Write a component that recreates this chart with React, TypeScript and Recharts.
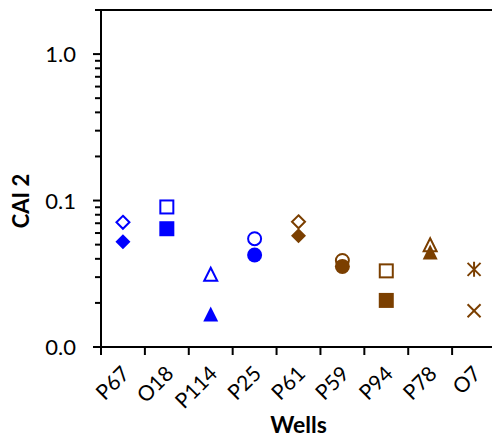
import { ScatterChart, Scatter, XAxis, YAxis } from 'recharts'

const wells = ['P67', 'O18', 'P114', 'P25', 'P61', 'P59', 'P94', 'P78', 'O7']
const openValues = [0.071, 0.0904, 0.0314, 0.0549, 0.0716, 0.039, 0.0331, 0.0499, 0.0339]
const filledValues = [0.0524, 0.0642, 0.0168, 0.0425, 0.0575, 0.0355, 0.0208, 0.0445, 0.0177]
const wellColors = ['#0000ff', '#0000ff', '#0000ff', '#0000ff', '#7b3f00', '#7b3f00', '#7b3f00', '#7b3f00', '#7b3f00']
const openShapes = ['diamond', 'square', 'triangle', 'circle', 'diamond', 'circle', 'square', 'triangle', 'star']
const filledShapes = ['diamond', 'square', 'triangle', 'circle', 'diamond', 'circle', 'square', 'triangle', 'cross']
const majorTicks = [0.01, 0.1, 1]
const minorTicks = [0.02, 0.03, 0.04, 0.05, 0.06, 0.07, 0.08, 0.09, 0.2, 0.3, 0.4, 0.5, 0.6, 0.7, 0.8, 0.9, 2]

const W = 500
const H = 438
const LEFT = 101
const RIGHT_PAD = 4
const TOP = 10
const X_AXIS_H = 91
const BOTTOM = H - X_AXIS_H
const BAND = (W - RIGHT_PAD - LEFT) / wells.length
const FONT = 'Lato, sans-serif'

const openRows = wells.map((well, i) => ({ well, v: openValues[i], i }))
const filledRows = wells.map((well, i) => ({ well, v: filledValues[i], i }))

function Marker({ cx, cy, shape, color, filled }: any) {
  const r = 7.5
  const fill = filled ? color : '#fff'
  const sw = filled ? 0 : 2
  const rr = filled ? r : r - 1
  if (shape === 'diamond')
    return <polygon points={`${cx},${cy - rr} ${cx + rr},${cy} ${cx},${cy + rr} ${cx - rr},${cy}`} fill={fill} stroke={color} strokeWidth={sw} />
  if (shape === 'square')
    return <rect x={cx - rr} y={cy - rr} width={rr * 2} height={rr * 2} fill={fill} stroke={color} strokeWidth={sw} />
  if (shape === 'triangle')
    return <polygon points={`${cx},${cy - rr} ${cx + rr},${cy + rr} ${cx - rr},${cy + rr}`} fill={fill} stroke={color} strokeWidth={sw} strokeLinejoin="miter" />
  if (shape === 'circle')
    return <circle cx={cx} cy={cy} r={rr} fill={fill} stroke={color} strokeWidth={sw} />
  const d = 6.5
  const lines = [
    [cx - d, cy - d, cx + d, cy + d],
    [cx - d, cy + d, cx + d, cy - d],
  ]
  if (shape === 'star') lines.push([cx, cy - 7.5, cx, cy + 7.5])
  return (
    <g>
      {lines.map((l, k) => (
        <line key={k} x1={l[0]} y1={l[1]} x2={l[2]} y2={l[3]} stroke={color} strokeWidth={2} />
      ))}
    </g>
  )
}

function XTick({ x, payload }: any) {
  const cx = payload.coordinate ?? x
  const bx = cx - BAND / 2
  const tx = cx + 8
  const ty = BOTTOM + 28
  return (
    <g>
      <line x1={bx} x2={bx} y1={BOTTOM} y2={BOTTOM + 8} stroke="#000" strokeWidth={2} />
      <text x={tx} y={ty} transform={`rotate(-45 ${tx} ${ty})`} textAnchor="end" fontSize={21} fontFamily={FONT} fill="#000">
        {payload.value}
      </text>
    </g>
  )
}

function YTick({ y, payload }: any) {
  const ty = payload.coordinate ?? y
  const v = payload.value
  const major = majorTicks.includes(v)
  return (
    <g>
      <line x1={LEFT - (major ? 8 : 6)} x2={v === 2 ? W : LEFT} y1={ty} y2={ty} stroke="#000" strokeWidth={2} />
      {major && (
        <text x={LEFT - 25} y={ty} dy={8} textAnchor="end" fontSize={22} fontFamily={FONT} fill="#000">
          {v.toFixed(1)}
        </text>
      )}
    </g>
  )
}

export default function App() {
  return (
    <div style={{ position: 'absolute', left: 0, top: 0, width: 492, height: 438, overflow: 'hidden', background: '#fff' }}>
      <ScatterChart width={W} height={H} margin={{ top: TOP, right: RIGHT_PAD, bottom: 0, left: 0 }}>
        <XAxis
          dataKey="well"
          type="category"
          allowDuplicatedCategory={false}
          height={X_AXIS_H}
          interval={0}
          tickLine={false}
          tick={<XTick />}
          axisLine={{ stroke: '#000', strokeWidth: 2 }}
          label={{ value: 'Wells', position: 'insideBottom', offset: 5, fontSize: 23, fontWeight: 'bold', fontFamily: FONT, fill: '#000' }}
        />
        <YAxis
          dataKey="v"
          type="number"
          scale="log"
          domain={[0.01, 2]}
          allowDataOverflow
          ticks={[...majorTicks, ...minorTicks]}
          interval={0}
          width={LEFT}
          tickLine={false}
          tick={<YTick />}
          axisLine={{ stroke: '#000', strokeWidth: 2 }}
          label={{
            content: () => (
              <text x={20} y={201} transform="rotate(-90 20 201)" textAnchor="middle" dominantBaseline="central" fontSize={22} fontWeight="bold" fontFamily={FONT} fill="#000">
                CAI 2
              </text>
            ),
          }}
        />
        <Scatter
          data={openRows}
          isAnimationActive={false}
          shape={(p: any) => <Marker cx={p.cx} cy={p.cy} shape={openShapes[p.payload.i]} color={wellColors[p.payload.i]} filled={false} />}
        />
        <Scatter
          data={filledRows}
          isAnimationActive={false}
          shape={(p: any) => <Marker cx={p.cx} cy={p.cy} shape={filledShapes[p.payload.i]} color={wellColors[p.payload.i]} filled={filledShapes[p.payload.i] !== 'cross'} />}
        />
      </ScatterChart>
    </div>
  )
}
